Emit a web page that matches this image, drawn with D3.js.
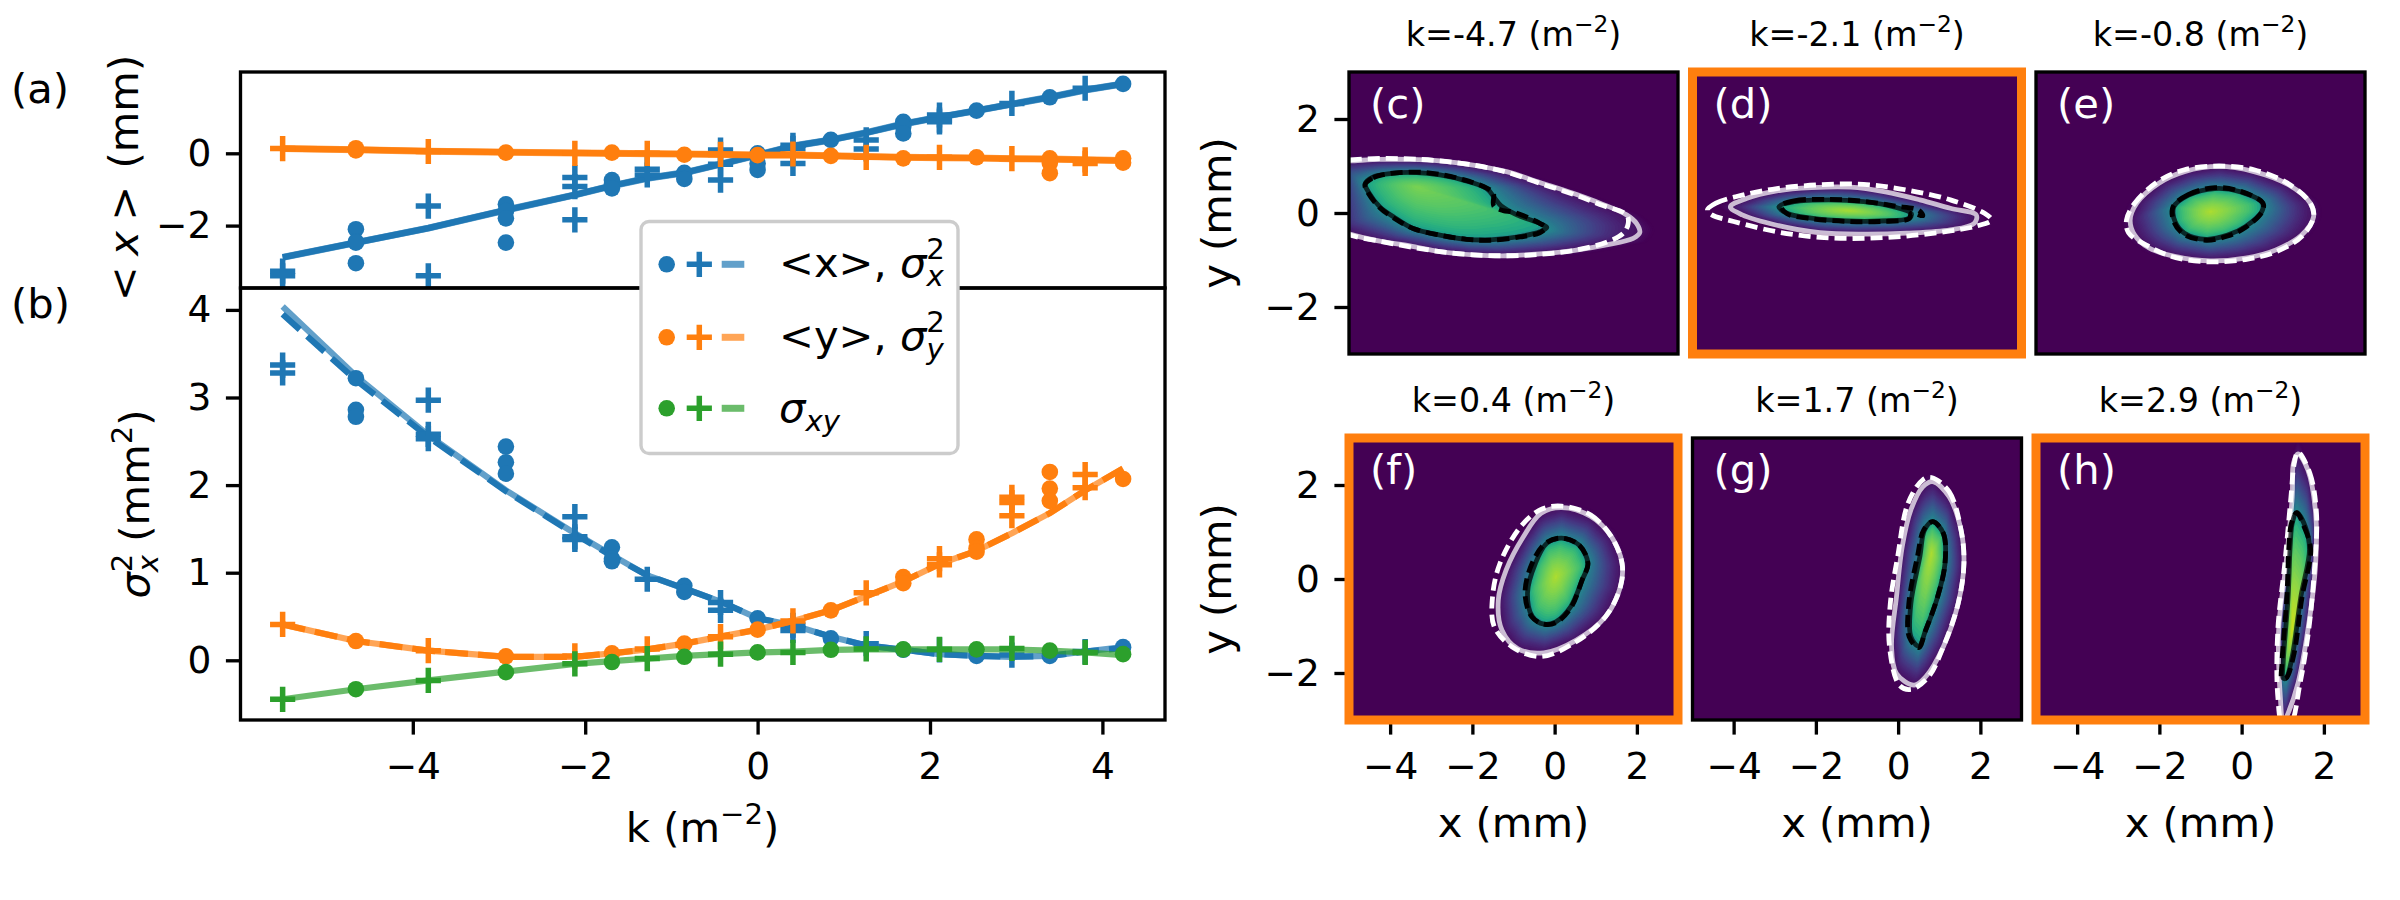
<!DOCTYPE html>
<html><head><meta charset="utf-8">
<script src="https://cdn.jsdelivr.net/npm/d3@7"></script>
<style>html,body{margin:0;padding:0;background:#fff}svg{display:block}text{font-family:"DejaVu Sans"}</style>
</head><body><svg id="c" width="2400" height="900" xmlns="http://www.w3.org/2000/svg"></svg>
<script>
// ---- line data -----
const kFit=[-5.51,-4.66,-3.82,-2.92,-2.12,-1.69,-1.28,-0.85,-0.43,0,0.41,0.85,1.26,1.69,2.11,2.54,2.95,3.39,3.80,4.24];
const meanXFit=[-2.88,-2.47,-2.07,-1.57,-1.15,-0.90,-0.69,-0.54,-0.30,-0.05,0.20,0.37,0.57,0.81,1.00,1.18,1.36,1.55,1.75,1.92];
const meanYFit=[0.13,0.10,0.06,0.03,0.01,0,-0.01,-0.02,-0.03,-0.05,-0.05,-0.07,-0.09,-0.11,-0.12,-0.13,-0.15,-0.16,-0.18,-0.20];
const sx2Fit=[4.04,3.245,2.57,1.94,1.45,1.20,0.97,0.82,0.67,0.48,0.40,0.27,0.17,0.12,0.07,0.05,0.04,0.05,0.10,0.15];
const sx2Dash=[3.95,3.20,2.55,1.93,1.44,1.19,0.97,0.82,0.67,0.48,0.40,0.27,0.17,0.12,0.07,0.05,0.04,0.05,0.10,0.14];
const sy2Fit=[0.41,0.22,0.11,0.04,0.04,0.08,0.125,0.19,0.27,0.35,0.45,0.57,0.73,0.90,1.10,1.25,1.45,1.68,1.94,2.19];
const sxyFit=[-0.445,-0.33,-0.23,-0.13,-0.04,-0.01,0.02,0.05,0.07,0.09,0.10,0.12,0.125,0.125,0.125,0.125,0.125,0.11,0.09,0.06];
// ---- point data, [k, value] -----
const meanXDots=[[-4.66,-2.10],[-4.66,-2.44],[-4.66,-2.47],[-4.66,-3.04],[-2.92,-1.41],[-2.92,-1.60],[-2.92,-1.80],[-2.92,-2.47],[-1.69,-0.74],[-1.69,-0.85],[-1.69,-0.97],[-0.85,-0.54],[-0.85,-0.71],[0,0],[0,-0.28],[0,-0.46],[0.85,0.37],[1.69,0.87],[1.69,0.74],[1.69,0.55],[2.54,1.18],[3.39,1.55],[4.24,1.92]];
const meanXPlus=[[-5.51,-3.26],[-5.51,-3.39],[-3.82,-1.46],[-3.82,-3.39],[-2.12,-0.67],[-2.12,-0.92],[-2.12,-1.84],[-1.28,-0.44],[-1.28,-0.60],[-0.43,0.09],[-0.43,-0.30],[-0.43,-0.74],[0.41,0.14],[0.41,0.22],[0.41,-0.28],[1.26,0.37],[1.26,0.12],[2.11,1.06],[2.11,0.92],[2.11,0.87],[2.95,1.38],[3.80,1.80]];
const meanYDots=[[-4.66,0.14],[-4.66,0.08],[-2.92,0.02],[-1.69,0.02],[-0.85,-0.04],[0,-0.05],[0.85,-0.07],[1.69,-0.14],[2.54,-0.11],[3.39,-0.14],[3.39,-0.27],[3.39,-0.55],[4.24,-0.14],[4.24,-0.26]];
const meanYPlus=[[-5.51,0.13],[-3.82,0.05],[-2.12,0],[-1.28,0],[-0.43,-0.03],[0.41,-0.02],[1.26,-0.11],[2.11,-0.11],[2.95,-0.15],[3.80,-0.18],[3.80,-0.28]];
const sx2Dots=[[-4.66,3.22],[-4.66,2.86],[-4.66,2.78],[-2.92,2.44],[-2.92,2.26],[-2.92,2.13],[-1.69,1.29],[-1.69,1.16],[-1.69,1.13],[-0.85,0.85],[-0.85,0.78],[0,0.48],[0.85,0.25],[1.69,0.12],[2.54,0.05],[3.39,0.05],[4.24,0.15]];
const sx2Plus=[[-5.51,3.37],[-5.51,3.28],[-3.82,2.97],[-3.82,2.58],[-3.82,2.53],[-2.12,1.64],[-2.12,1.41],[-2.12,1.38],[-1.28,0.925],[-0.43,0.66],[-0.43,0.57],[0.41,0.40],[0.41,0.34],[1.26,0.19],[2.11,0.12],[2.95,0.06],[3.80,0.10]];
const sy2Dots=[[-4.66,0.22],[-2.92,0.045],[-1.69,0.08],[-0.85,0.19],[0,0.35],[0.85,0.57],[1.69,0.95],[1.69,0.88],[2.54,1.38],[2.54,1.28],[2.54,1.24],[3.39,2.15],[3.39,1.96],[3.39,1.82],[4.24,2.07]];
const sy2Plus=[[-5.51,0.41],[-3.82,0.11],[-2.12,0.05],[-1.28,0.13],[-0.43,0.27],[0.41,0.45],[1.26,0.77],[2.11,1.16],[2.11,1.09],[2.95,1.86],[2.95,1.80],[2.95,1.65],[3.80,2.12],[3.80,1.97]];
const sxyDots=[[-4.66,-0.33],[-2.92,-0.135],[-1.69,-0.02],[-0.85,0.04],[0,0.09],[0.85,0.12],[1.69,0.125],[2.54,0.125],[3.39,0.11],[4.24,0.07]];
const sxyPlus=[[-5.51,-0.445],[-3.82,-0.23],[-2.12,-0.04],[-1.28,0.02],[-0.43,0.07],[0.41,0.09],[1.26,0.13],[2.11,0.125],[2.95,0.135],[3.80,0.09]];
const xTicksMain=[-4,-2,0,2,4], aTicks=[-2,0], bTicks=[0,1,2,3,4], heatXTicks=[-4,-2,0,2], heatYTicks=[-2,0,2];
// ---- contour data (mm) -----
const outerC=[[-5.4,1.1],[-4.98,1.11],[-4.25,1.14],[-3.52,1.14],[-2.79,1.11],[-1.98,1.02],[-1.17,.88],[-.36,.65],[.45,.42],[1.10,.21],[1.75,-.04],[1.99,-.22],[2.07,-.42],[1.91,-.54],[1.26,-.68],[.45,-.80],[-.36,-.87],[-1.17,-.91],[-1.98,-.89],[-2.79,-.82],[-3.52,-.70],[-4.25,-.60],[-4.98,-.45],[-5.4,-.3]];
const outerDashC=[[-5.4,1.1],[-4.98,1.13],[-4.25,1.16],[-3.52,1.15],[-2.79,1.11],[-1.98,1.02],[-1.17,.87],[-.36,.63],[.45,.40],[1.10,.18],[1.75,-.04],[1.79,-.22],[1.67,-.43],[1.26,-.62],[.45,-.80],[-.36,-.88],[-1.17,-.91],[-1.98,-.89],[-2.79,-.82],[-3.52,-.72],[-4.25,-.60],[-4.98,-.47],[-5.4,-.3]];
const innerC=[[-4.61,.62],[-4.41,.77],[-4.0,.84],[-3.35,.86],[-2.79,.81],[-2.22,.70],[-1.65,.52],[-1.45,.31],[-1.3,.15],[-.92,-.04],[-.36,-.22],[-.19,-.31],[-.36,-.40],[-.84,-.50],[-1.57,-.57],[-2.14,-.56],[-2.79,-.47],[-3.44,-.33],[-3.92,-.08],[-4.25,.13],[-4.53,.45]];
const innerDashC=[[-4.61,.60],[-4.41,.75],[-4.0,.84],[-3.35,.87],[-2.79,.82],[-2.22,.71],[-1.65,.53],[-1.49,.42],[-1.48,.15],[-1.25,.05],[-1.0,.02],[-.36,-.22],[-.22,-.31],[-.36,-.42],[-.84,-.51],[-1.57,-.58],[-2.14,-.56],[-2.79,-.47],[-3.44,-.33],[-3.92,-.10],[-4.25,.11],[-4.55,.45]];
const peakC=[-3.35,.56];
const outerD=[[-4.08,.13],[-3.69,.31],[-2.95,.47],[-2.11,.54],[-1.16,.55],[-.31,.45],[.53,.28],[1.27,.10],[1.90,-.04],[1.85,-.22],[1.27,-.36],[.21,-.43],[-.84,-.45],[-1.90,-.42],[-2.95,-.26],[-3.79,-.04]];
const outerDashD=[[-4.64,.06],[-4.43,.21],[-3.79,.38],[-2.95,.52],[-1.90,.60],[-.84,.61],[.21,.49],[1.27,.28],[2.11,-.01],[2.27,-.15],[1.90,-.28],[1.27,-.38],[.21,-.49],[-.84,-.54],[-1.90,-.52],[-2.95,-.40],[-4.0,-.18],[-4.53,-.04]];
const innerD=[[-2.90,.13],[-2.53,.24],[-1.69,.28],[-.84,.24],[-.10,.13],[.32,-.01],[.27,-.11],[-.42,-.17],[-1.26,-.17],[-2.11,-.11],[-2.69,-.01]];
const innerDashD=[[-2.85,.15],[-2.53,.26],[-1.69,.29],[-.84,.25],[-.1,.15],[.5,.06],[.6,-.06],[.32,0],[.27,-.12],[-.42,-.18],[-1.26,-.18],[-2.11,-.12],[-2.69,-.02]];
const peakD=[-1.2,.05];
const outerE=[[-2.71,-.15],[-2.55,.21],[-2.02,.63],[-1.39,.88],[-.55,.99],[.30,.88],[1.14,.60],[1.67,.21],[1.75,-.08],[1.46,-.47],[.82,-.79],[.09,-.96],[-.76,-1.02],[-1.60,-.93],[-2.24,-.75],[-2.60,-.47]];
const outerDashE=[[-2.8,-.15],[-2.6,.21],[-2.02,.68],[-1.39,.92],[-.55,1.0],[.30,.92],[1.14,.62],[1.67,.21],[1.75,-.08],[1.46,-.50],[.82,-.83],[.09,-.99],[-.76,-1.04],[-1.60,-.95],[-2.24,-.72],[-2.75,-.42]];
const innerE=[[-1.65,.13],[-1.29,.38],[-.65,.52],[-.02,.45],[.51,.21],[.49,.03],[.09,-.29],[-.34,-.47],[-.86,-.56],[-1.39,-.43],[-1.62,-.18]];
const innerDashE=[[-1.67,.13],[-1.30,.39],[-.65,.54],[-.02,.46],[.52,.21],[.50,.03],[.09,-.31],[-.34,-.49],[-.86,-.58],[-1.41,-.45],[-1.65,-.18]];
const peakE=[-.76,.03];
const outerF=[[.17,1.52],[.88,1.33],[1.38,.90],[1.64,.33],[1.60,-.16],[1.24,-.80],[.53,-1.30],[-.26,-1.57],[-.90,-1.48],[-1.28,-1.09],[-1.37,-.45],[-1.18,.19],[-.76,.90],[-.33,1.40]];
const outerDashF=[[.17,1.55],[.88,1.36],[1.38,.90],[1.64,.33],[1.60,-.16],[1.24,-.80],[.53,-1.33],[-.33,-1.65],[-1.04,-1.44],[-1.47,-1.01],[-1.51,-.38],[-1.33,.33],[-.83,1.11],[-.33,1.48]];
const innerF=[[.17,.87],[.60,.72],[.81,.33],[.67,-.02],[.39,-.59],[.03,-.91],[-.26,-.96],[-.54,-.80],[-.66,-.30],[-.47,.33],[-.19,.76]];
const innerDashF=[[.17,.87],[.60,.72],[.81,.33],[.67,-.02],[.39,-.62],[.03,-.93],[-.26,-.96],[-.56,-.80],[-.72,-.30],[-.55,.33],[-.22,.76]];
const peakF=[.03,.05];
const outerG=[[.84,2.07],[1.24,1.75],[1.53,1.04],[1.60,.33],[1.46,-.52],[1.10,-1.44],[.67,-2.08],[.39,-2.26],[-.04,-2.01],[-.16,-1.44],[-.04,-.38],[.10,.69],[.31,1.47],[.60,1.96]];
const outerDashG=[[.81,2.16],[1.24,1.86],[1.53,1.04],[1.60,.33],[1.46,-.52],[1.10,-1.44],[.74,-2.08],[.31,-2.35],[.03,-2.26],[-.21,-1.44],[-.19,-.52],[-.01,.48],[.24,1.61],[.60,2.11]];
const innerG=[[.84,1.22],[1.10,.97],[1.14,.33],[.96,-.38],[.67,-1.09],[.50,-1.43],[.31,-1.23],[.31,-.52],[.53,.48],[.64,1.04]];
const innerDashG=[[.84,1.22],[1.10,.97],[1.14,.33],[.96,-.38],[.67,-1.09],[.50,-1.46],[.27,-1.23],[.26,-.52],[.47,.48],[.62,1.04]];
const peakG=[.81,.55];
const outerH=[[1.37,2.66],[1.61,2.32],[1.80,1.40],[1.80,.33],[1.61,-1.09],[1.37,-2.22],[1.08,-2.96],[1.01,-3.07],[.94,-2.50],[.90,-1.09],[1.08,.33],[1.23,1.75],[1.26,2.46]];
const outerDashH=[[1.37,2.7],[1.66,2.25],[1.82,1.4],[1.78,.33],[1.63,-1.09],[1.42,-2.22],[1.18,-3.1],[1.0,-3.1],[.88,-2.5],[.88,-1.09],[1.05,.33],[1.2,1.75],[1.28,2.46]];
const innerH=[[1.34,1.41],[1.55,1.11],[1.65,.62],[1.44,-.38],[1.23,-1.65],[1.08,-2.11],[1.01,-2.11],[1.01,-1.79],[1.13,-.38],[1.18,.69],[1.23,1.18]];
const innerDashH=[[1.34,1.41],[1.52,1.11],[1.68,.62],[1.47,-.38],[1.26,-1.65],[1.08,-2.11],[.98,-2.11],[.98,-1.79],[1.10,-.38],[1.15,.69],[1.21,1.18]];
const peakH=[1.23,-1.09];
const panelTags=["(c)","(d)","(e)","(f)","(g)","(h)"];
const panelK=["-4.7","-2.1","-0.8","0.4","1.7","2.9"];
const panelPeakLevel=[.80,.87,.88,.88,.88,.93];
const panelOuter=[outerC,outerD,outerE,outerF,outerG,outerH];
const panelOuterDash=[outerDashC,outerDashD,outerDashE,outerDashF,outerDashG,outerDashH];
const panelInner=[innerC,innerD,innerE,innerF,innerG,innerH];
const panelInnerDash=[innerDashC,innerDashD,innerDashE,innerDashF,innerDashG,innerDashH];
const panelPeak=[peakC,peakD,peakE,peakF,peakG,peakH];
const panelFramed=[false,true,false,true,false,true];

// ---- styling -----
const BLUE="#1f77b4",ORANGE="#ff7f0e",GREEN="#2ca02c";
const TICK=37.5,LABEL=41.67,TITLE=33.3;
const fmt=d3.format("d");
const svg=d3.select("#c");
const defs=svg.append("defs");
let clipN=0;
function clipRect(x,y,w,h){const id="clip"+(++clipN);defs.append("clipPath").attr("id",id).append("rect").attr("x",x).attr("y",y).attr("width",w).attr("height",h);return "url(#"+id+")";}

function rich(t,parts,size){
  parts.forEach(p=>{
    const s=t.append("tspan").text(p.t);
    const fs=(p.sup||p.sub)?size*0.7:size;
    s.attr("font-size",fs);
    if(p.it)s.attr("font-style","italic");
    let dy=0;
    if(p.sup)dy=-0.42*size; if(p.sub)dy=0.22*size;
    if(p.rise!==undefined)dy=p.rise*size;
    if(dy)s.attr("dy",dy);
    if(p.dx)s.attr("dx",p.dx*size);
  });
}
function styleAxis(g,size){
  g.select(".domain").remove();
  g.selectAll(".tick line").attr("stroke","#000").attr("stroke-width",3.33);
  g.selectAll(".tick text").attr("font-family","DejaVu Sans").attr("font-size",size).attr("fill","#000");
}
function frame(x,y,w,h){svg.append("rect").attr("x",x).attr("y",y).attr("width",w).attr("height",h).attr("fill","none").attr("stroke","#000").attr("stroke-width",3.33);}

// ---- left panels -----
const L=240.5,R=1165,AT=72,AB=288,BB=720;
const xK=d3.scaleLinear().domain([(L-757.6)/86.2,(R-757.6)/86.2]).range([L,R]);
const yA=d3.scaleLinear().domain([(153.3-AB)/36.15,(153.3-AT)/36.15]).range([AB,AT]);
const yB=d3.scaleLinear().domain([(660.3-BB)/87.6,(660.3-AB)/87.6]).range([BB,AB]);

function lineFor(y,vals){return d3.line().x((d,i)=>xK(kFit[i])).y(d=>y(d)).curve(d3.curveLinear)(vals);}
function drawSeries(g,y,solid,dashed,color,dots,plus,fullSolid){
  g.append("path").attr("d",lineFor(y,solid)).attr("fill","none").attr("stroke",color).attr("stroke-opacity",.7).attr("stroke-width",fullSolid?7:6.2).attr("stroke-linejoin","round");
  if(dashed){
    const p=g.append("path").attr("d",lineFor(y,dashed)).attr("fill","none").attr("stroke",color).attr("stroke-width",6.2);
    if(!fullSolid)p.attr("stroke-dasharray","23,10");
  }
  g.selectAll(null).data(dots).enter().append("circle").attr("cx",d=>xK(d[0])).attr("cy",d=>y(d[1])).attr("r",8.3).attr("fill",color);
  plusMarks(g,plus,d=>xK(d[0]),d=>y(d[1]),color);
}
function plusMarks(g,data,fx,fy,color){
  const r=12.6;
  g.selectAll(null).data(data).enter().append("path")
   .attr("d",d=>{const a=fx(d),b=fy(d);return `M${a-r},${b}H${a+r}M${a},${b-r}V${b+r}`;})
   .attr("stroke",color).attr("stroke-width",5.5).attr("fill","none");
}
const gA=svg.append("g").attr("clip-path",clipRect(L,AT,R-L,AB-AT));
drawSeries(gA,yA,meanXFit,meanXFit,BLUE,meanXDots,meanXPlus,true);
drawSeries(gA,yA,meanYFit,meanYFit,ORANGE,meanYDots,meanYPlus,true);
const gB=svg.append("g").attr("clip-path",clipRect(L,AB,R-L,BB-AB));
drawSeries(gB,yB,sx2Fit,sx2Dash,BLUE,sx2Dots,sx2Plus,false);
drawSeries(gB,yB,sy2Fit,sy2Fit,ORANGE,sy2Dots,sy2Plus,false);
drawSeries(gB,yB,sxyFit,null,GREEN,sxyDots,sxyPlus,false);
frame(L,AT,R-L,AB-AT);frame(L,AB,R-L,BB-AB);
styleAxis(svg.append("g").attr("transform",`translate(${L},0)`).call(d3.axisLeft(yA).tickValues(aTicks).tickFormat(fmt).tickSize(14.6).tickPadding(14.6)),TICK);
styleAxis(svg.append("g").attr("transform",`translate(${L},0)`).call(d3.axisLeft(yB).tickValues(bTicks).tickFormat(fmt).tickSize(14.6).tickPadding(14.6)),TICK);
styleAxis(svg.append("g").attr("transform",`translate(0,${BB})`).call(d3.axisBottom(xK).tickValues(xTicksMain).tickFormat(fmt).tickSize(14.6).tickPadding(18)),TICK);

function plainText(x,y,str,size,fill){return svg.append("text").attr("x",x).attr("y",y).attr("font-size",size).attr("fill",fill||"#000").text(str);}
plainText(11,102.5,"(a)",LABEL);
plainText(11,318,"(b)",LABEL);

// axis labels
const ya=svg.append("text").attr("transform",`translate(138,178) rotate(-90)`).attr("text-anchor","middle").attr("font-size",LABEL);
rich(ya,[{t:"<"},{t:"x",it:true,dx:.25},{t:">",dx:.25},{t:" (mm)",dx:.1}],LABEL);
const yb=svg.append("text").attr("transform",`translate(149,504) rotate(-90)`).attr("text-anchor","middle").attr("font-size",LABEL);
rich(yb,[{t:"σ",it:true},{t:"2",sup:true},{t:"x",it:true,sub:true,rise:.64,dx:-.445},{t:"  (mm",rise:-.22},{t:"2",sup:true},{t:")",rise:.42}],LABEL);
const xl=svg.append("text").attr("x",702.5).attr("y",842).attr("text-anchor","middle").attr("font-size",LABEL);
rich(xl,[{t:"k (m"},{t:"−2",sup:true},{t:")",rise:.42}],LABEL);

// legend
const lg=svg.append("g");
lg.append("rect").attr("x",641).attr("y",221.5).attr("width",317).attr("height",232).attr("rx",8).attr("fill","#fff").attr("stroke","#ccc").attr("stroke-width",3.4);
const legendRows=[{y:264.3,c:BLUE},{y:337.3,c:ORANGE},{y:408.3,c:GREEN}];
legendRows.forEach(r=>{
  lg.append("circle").attr("cx",666.7).attr("cy",r.y).attr("r",8.3).attr("fill",r.c);
  plusMarks(lg,[r],()=>699.3,d=>d.y,r.c);
  lg.append("path").attr("d",`M721.7,${r.y}H744.3`).attr("stroke",r.c).attr("stroke-opacity",.7).attr("stroke-width",7);
});
function lgText(y){return lg.append("text").attr("x",779).attr("y",y).attr("font-size",LABEL);}
rich(lgText(277),[{t:"<x>, "},{t:"σ",it:true},{t:"2",sup:true},{t:"x",it:true,sub:true,rise:.64,dx:-.445}],LABEL);
rich(lgText(350),[{t:"<y>, "},{t:"σ",it:true},{t:"2",sup:true},{t:"y",it:true,sub:true,rise:.64,dx:-.445}],LABEL);
rich(lgText(421.7),[{t:"σ",it:true},{t:"xy",it:true,sub:true}],LABEL);

// ---- heat panels -----
const viridis=d3.scaleSequential(d3.interpolateViridis).domain([0,1]);
const panelXs=[1349,1692.5,2036], panelW=329, rowYs=[[72,354],[438,720]];
function resample(poly,n){
  const seg=[];let tot=0;
  for(let i=0;i<poly.length;i++){const a=poly[i],b=poly[(i+1)%poly.length];const l=Math.hypot(b[0]-a[0],b[1]-a[1]);seg.push(l);tot+=l;}
  const out=[];let i=0,acc=0;
  for(let k=0;k<n;k++){
    const s=tot*k/n;
    while(acc+seg[i]<s){acc+=seg[i];i++;}
    const a=poly[i],b=poly[(i+1)%poly.length],f=(s-acc)/seg[i];
    out.push([a[0]+(b[0]-a[0])*f,a[1]+(b[1]-a[1])*f]);
  }
  return out;
}
function mix(A,B,t){return A.map((p,i)=>[p[0]+(B[i][0]-p[0])*t,p[1]+(B[i][1]-p[1])*t]);}
panelTags.forEach((tag,idx)=>{
  const col=idx%3,row=Math.floor(idx/3);
  const x0=panelXs[col],[top,bot]=rowYs[row];
  const x=d3.scaleLinear().domain([-5,3]).range([x0,x0+panelW]);
  const y=d3.scaleLinear().domain([-3,3]).range([bot,top]);
  const line=d3.line().x(d=>x(d[0])).y(d=>y(d[1])).curve(d3.curveCatmullRomClosed.alpha(.5));
  const g=svg.append("g").attr("clip-path",clipRect(x0,top,panelW,bot-top));
  g.append("rect").attr("x",x0).attr("y",top).attr("width",panelW).attr("height",bot-top).attr("fill",viridis(0));
  const N=48;
  const O=resample(panelOuter[idx],N),I=resample(panelInner[idx],N);
  const pk=panelPeak[idx],P=I.map(()=>pk);
  const cx=d3.mean(O,d=>d[0]),cy=d3.mean(O,d=>d[1]);
  for(let t=0;t<1;t+=1/8){
    const s=1+(1-t)*0.1;
    g.append("path").attr("d",line(O.map(p=>[cx+(p[0]-cx)*s,cy+(p[1]-cy)*s]))).attr("fill",viridis(.05*t));
  }
  for(let t=0;t<1;t+=1/32){
    g.append("path").attr("d",line(mix(O,I,t))).attr("fill",viridis(.05+(.5-.05)*Math.pow(t,1.3)));
  }
  for(let t=0;t<.98;t+=1/20){
    g.append("path").attr("d",line(mix(I,P,t))).attr("fill",viridis(.5+(panelPeakLevel[idx]-.5)*Math.pow(t,.45)));
  }
  const W=4.8;
  g.append("path").attr("d",line(panelOuter[idx])).attr("fill","none").attr("stroke","#fff").attr("stroke-opacity",.72).attr("stroke-width",W);
  g.append("path").attr("d",line(panelOuterDash[idx])).attr("fill","none").attr("stroke","#fff").attr("stroke-width",W).attr("stroke-dasharray","12,6");
  g.append("path").attr("d",line(panelInner[idx])).attr("fill","none").attr("stroke","#000").attr("stroke-opacity",.72).attr("stroke-width",W);
  g.append("path").attr("d",line(panelInnerDash[idx])).attr("fill","none").attr("stroke","#000").attr("stroke-width",W).attr("stroke-dasharray","12,6");
  if(col===0)styleAxis(svg.append("g").attr("transform",`translate(${x0},0)`).call(d3.axisLeft(y).tickValues(heatYTicks).tickFormat(fmt).tickSize(14.6).tickPadding(14.6)),TICK);
  if(row===1)styleAxis(svg.append("g").attr("transform",`translate(0,${bot})`).call(d3.axisBottom(x).tickValues(heatXTicks).tickFormat(fmt).tickSize(14.6).tickPadding(18)),TICK);
  if(panelFramed[idx]){
    svg.append("rect").attr("x",x0).attr("y",top).attr("width",panelW).attr("height",bot-top).attr("fill","none").attr("stroke",ORANGE).attr("stroke-width",9);
  } else frame(x0,top,panelW,bot-top);
  plainText(x0+21,top+45.5,tag,LABEL,"#fff");
  const tt=svg.append("text").attr("x",x0+panelW/2).attr("y",top-26).attr("text-anchor","middle").attr("font-size",TITLE);
  rich(tt,[{t:`k=${panelK[idx]} (m`},{t:"−2",sup:true},{t:")",rise:.42}],TITLE);
  if(col===0){
    const yl=svg.append("text").attr("transform",`translate(1231,${(top+bot)/2}) rotate(-90)`).attr("text-anchor","middle").attr("font-size",LABEL);
    rich(yl,[{t:"y (mm)"}],LABEL);
  }
  if(row===1){
    const xl2=svg.append("text").attr("x",x0+panelW/2).attr("y",837).attr("text-anchor","middle").attr("font-size",LABEL);
    rich(xl2,[{t:"x (mm)"}],LABEL);
  }
});
</script></body></html>
